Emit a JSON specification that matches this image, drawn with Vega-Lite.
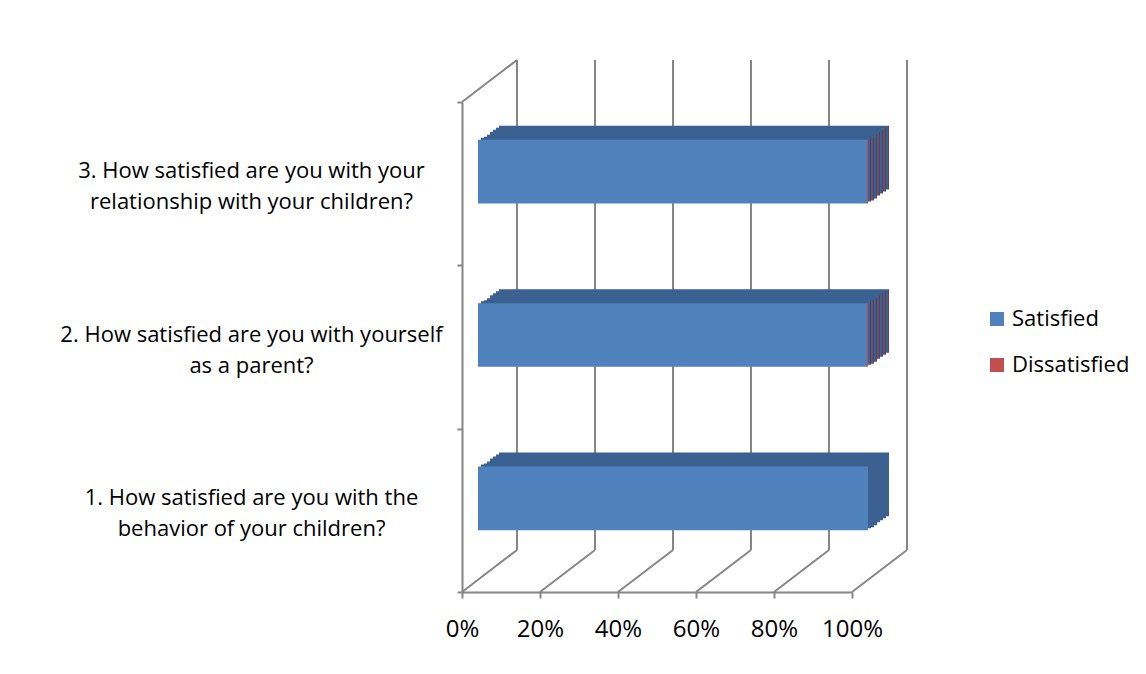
{
  "$schema": "https://vega.github.io/schema/vega-lite/v6.json",
  "autosize": "none",
  "width": 390,
  "height": 490,
  "padding": {"left": 462, "top": 102, "right": 294, "bottom": 82},
  "background": "white",
  "config": {"view": {"stroke": null}, "font": "Open Sans"},
  "datasets": {
    "bars": [
      {"q": "1. How satisfied are you with the|behavior of your children?", "resp": "Satisfied", "pct": 100},
      {"q": "1. How satisfied are you with the|behavior of your children?", "resp": "Dissatisfied", "pct": 0},
      {"q": "2. How satisfied are you with yourself|as a parent?", "resp": "Satisfied", "pct": 99.75},
      {"q": "2. How satisfied are you with yourself|as a parent?", "resp": "Dissatisfied", "pct": 0.25},
      {"q": "3. How satisfied are you with your|relationship with your children?", "resp": "Satisfied", "pct": 99.75},
      {"q": "3. How satisfied are you with your|relationship with your children?", "resp": "Dissatisfied", "pct": 0.25}
    ],
    "grid": [{"v": 0}, {"v": 20}, {"v": 40}, {"v": 60}, {"v": 80}, {"v": 100}],
    "floor": [
      {"v": 0, "lvl": 0}, {"v": 20, "lvl": 0}, {"v": 40, "lvl": 0}, {"v": 60, "lvl": 0},
      {"v": 80, "lvl": 0}, {"v": 100, "lvl": 0}, {"v": 0, "lvl": 1}
    ]
  },
  "layer": [
    {
      "data": {"name": "grid"},
      "mark": {"type": "rule", "color": "#868686", "strokeWidth": 2, "xOffset": 55, "x2Offset": 55, "yOffset": -42, "y2Offset": -42},
      "encoding": {
        "x": {"field": "v", "type": "quantitative", "scale": {"domain": [0, 100], "nice": false}},
        "y": {"datum": 0, "type": "quantitative", "scale": {"domain": [0, 1]}, "axis": null},
        "y2": {"datum": 1}
      }
    },
    {
      "data": {"name": "floor"},
      "mark": {"type": "rule", "color": "#868686", "strokeWidth": 2, "x2Offset": 55, "y2Offset": -42},
      "encoding": {
        "x": {"field": "v", "type": "quantitative", "scale": {"domain": [0, 100], "nice": false}},
        "x2": {"field": "v"},
        "y": {"field": "lvl", "type": "quantitative", "scale": {"domain": [0, 1]}, "axis": null},
        "y2": {"field": "lvl"}
      }
    },
    {"data": {"name": "bars"}, "mark": {"type": "bar", "height": {"band": 0.39}, "xOffset": 37, "x2Offset": 37, "yOffset": -26, "y2Offset": -26},
      "encoding": {"y": {"field": "q", "type": "nominal", "sort": "descending", "scale": {"paddingInner": 0, "paddingOuter": 0}, "axis": null},
        "x": {"field": "pct", "type": "quantitative", "stack": "zero", "scale": {"domain": [0, 100], "nice": false}},
        "detail": {"field": "resp"}, "order": {"field": "pct", "sort": "descending"},
        "color": {"condition": {"test": "datum.resp === 'Dissatisfied'", "value": "#7A3440"}, "value": "#3A6190"}}},
    {"data": {"name": "bars"}, "mark": {"type": "bar", "height": {"band": 0.39}, "xOffset": 34, "x2Offset": 34, "yOffset": -24, "y2Offset": -24},
      "encoding": {"y": {"field": "q", "type": "nominal", "sort": "descending", "scale": {"paddingInner": 0, "paddingOuter": 0}, "axis": null},
        "x": {"field": "pct", "type": "quantitative", "stack": "zero", "scale": {"domain": [0, 100], "nice": false}},
        "detail": {"field": "resp"}, "order": {"field": "pct", "sort": "descending"},
        "color": {"condition": {"test": "datum.resp === 'Dissatisfied'", "value": "#7A3440"}, "value": "#3A6190"}}},
    {"data": {"name": "bars"}, "mark": {"type": "bar", "height": {"band": 0.39}, "xOffset": 31, "x2Offset": 31, "yOffset": -22, "y2Offset": -22},
      "encoding": {"y": {"field": "q", "type": "nominal", "sort": "descending", "scale": {"paddingInner": 0, "paddingOuter": 0}, "axis": null},
        "x": {"field": "pct", "type": "quantitative", "stack": "zero", "scale": {"domain": [0, 100], "nice": false}},
        "detail": {"field": "resp"}, "order": {"field": "pct", "sort": "descending"},
        "color": {"condition": {"test": "datum.resp === 'Dissatisfied'", "value": "#7A3440"}, "value": "#3A6190"}}},
    {"data": {"name": "bars"}, "mark": {"type": "bar", "height": {"band": 0.39}, "xOffset": 28, "x2Offset": 28, "yOffset": -20, "y2Offset": -20},
      "encoding": {"y": {"field": "q", "type": "nominal", "sort": "descending", "scale": {"paddingInner": 0, "paddingOuter": 0}, "axis": null},
        "x": {"field": "pct", "type": "quantitative", "stack": "zero", "scale": {"domain": [0, 100], "nice": false}},
        "detail": {"field": "resp"}, "order": {"field": "pct", "sort": "descending"},
        "color": {"condition": {"test": "datum.resp === 'Dissatisfied'", "value": "#7A3440"}, "value": "#3A6190"}}},
    {"data": {"name": "bars"}, "mark": {"type": "bar", "height": {"band": 0.39}, "xOffset": 25, "x2Offset": 25, "yOffset": -17, "y2Offset": -17},
      "encoding": {"y": {"field": "q", "type": "nominal", "sort": "descending", "scale": {"paddingInner": 0, "paddingOuter": 0}, "axis": null},
        "x": {"field": "pct", "type": "quantitative", "stack": "zero", "scale": {"domain": [0, 100], "nice": false}},
        "detail": {"field": "resp"}, "order": {"field": "pct", "sort": "descending"},
        "color": {"condition": {"test": "datum.resp === 'Dissatisfied'", "value": "#7A3440"}, "value": "#3A6190"}}},
    {"data": {"name": "bars"}, "mark": {"type": "bar", "height": {"band": 0.39}, "xOffset": 22, "x2Offset": 22, "yOffset": -15, "y2Offset": -15},
      "encoding": {"y": {"field": "q", "type": "nominal", "sort": "descending", "scale": {"paddingInner": 0, "paddingOuter": 0}, "axis": null},
        "x": {"field": "pct", "type": "quantitative", "stack": "zero", "scale": {"domain": [0, 100], "nice": false}},
        "detail": {"field": "resp"}, "order": {"field": "pct", "sort": "descending"},
        "color": {"condition": {"test": "datum.resp === 'Dissatisfied'", "value": "#7A3440"}, "value": "#3A6190"}}},
    {"data": {"name": "bars"}, "mark": {"type": "bar", "height": {"band": 0.39}, "xOffset": 19, "x2Offset": 19, "yOffset": -14, "y2Offset": -14},
      "encoding": {"y": {"field": "q", "type": "nominal", "sort": "descending", "scale": {"paddingInner": 0, "paddingOuter": 0}, "axis": null},
        "x": {"field": "pct", "type": "quantitative", "stack": "zero", "scale": {"domain": [0, 100], "nice": false}},
        "detail": {"field": "resp"}, "order": {"field": "pct", "sort": "descending"},
        "color": {"condition": {"test": "datum.resp === 'Dissatisfied'", "value": "#7A3440"}, "value": "#3A6190"}}},
    {
      "data": {"name": "bars"},
      "mark": {"type": "bar", "height": {"band": 0.39}, "xOffset": 16, "x2Offset": 16, "yOffset": -12, "y2Offset": -12},
      "encoding": {
        "y": {"field": "q", "type": "nominal", "sort": "descending", "scale": {"paddingInner": 0, "paddingOuter": 0},
          "axis": {"title": null, "tickBand": "extent", "domainColor": "#868686", "domainWidth": 2, "tickColor": "#868686", "tickWidth": 2, "tickSize": 5,
            "labelFontSize": 22, "labelColor": "#000000", "labelAlign": "center", "labelBaseline": "middle", "labelPadding": 206, "labelOffset": -13,
            "labelExpr": "split(datum.label, '|')", "labelLineHeight": 31, "labelLimit": 0}},
        "x": {"field": "pct", "type": "quantitative", "stack": "zero", "scale": {"domain": [0, 100], "nice": false},
          "axis": {"title": null, "values": [0, 20, 40, 60, 80, 100], "labelExpr": "datum.value + '%'", "grid": false, "labelFlush": false,
            "domainColor": "#868686", "domainWidth": 2, "tickColor": "#868686", "tickWidth": 2, "tickSize": 6,
            "labelFontSize": 24, "labelColor": "#000000", "labelPadding": 19}},
        "order": {"field": "pct", "sort": "descending"},
        "color": {"field": "resp", "type": "nominal",
          "scale": {"domain": ["Satisfied", "Dissatisfied"], "range": ["#4F81BD", "#C0504D"]},
          "legend": {"orient": "none", "legendX": 524, "legendY": 206, "title": null, "labelFontSize": 22, "labelColor": "#000000",
            "symbolType": "square", "symbolSize": 196, "symbolStrokeWidth": 0, "rowPadding": 24, "labelOffset": 4}}
      }
    }
  ],
  "resolve": {"scale": {"y": "independent"}}
}
